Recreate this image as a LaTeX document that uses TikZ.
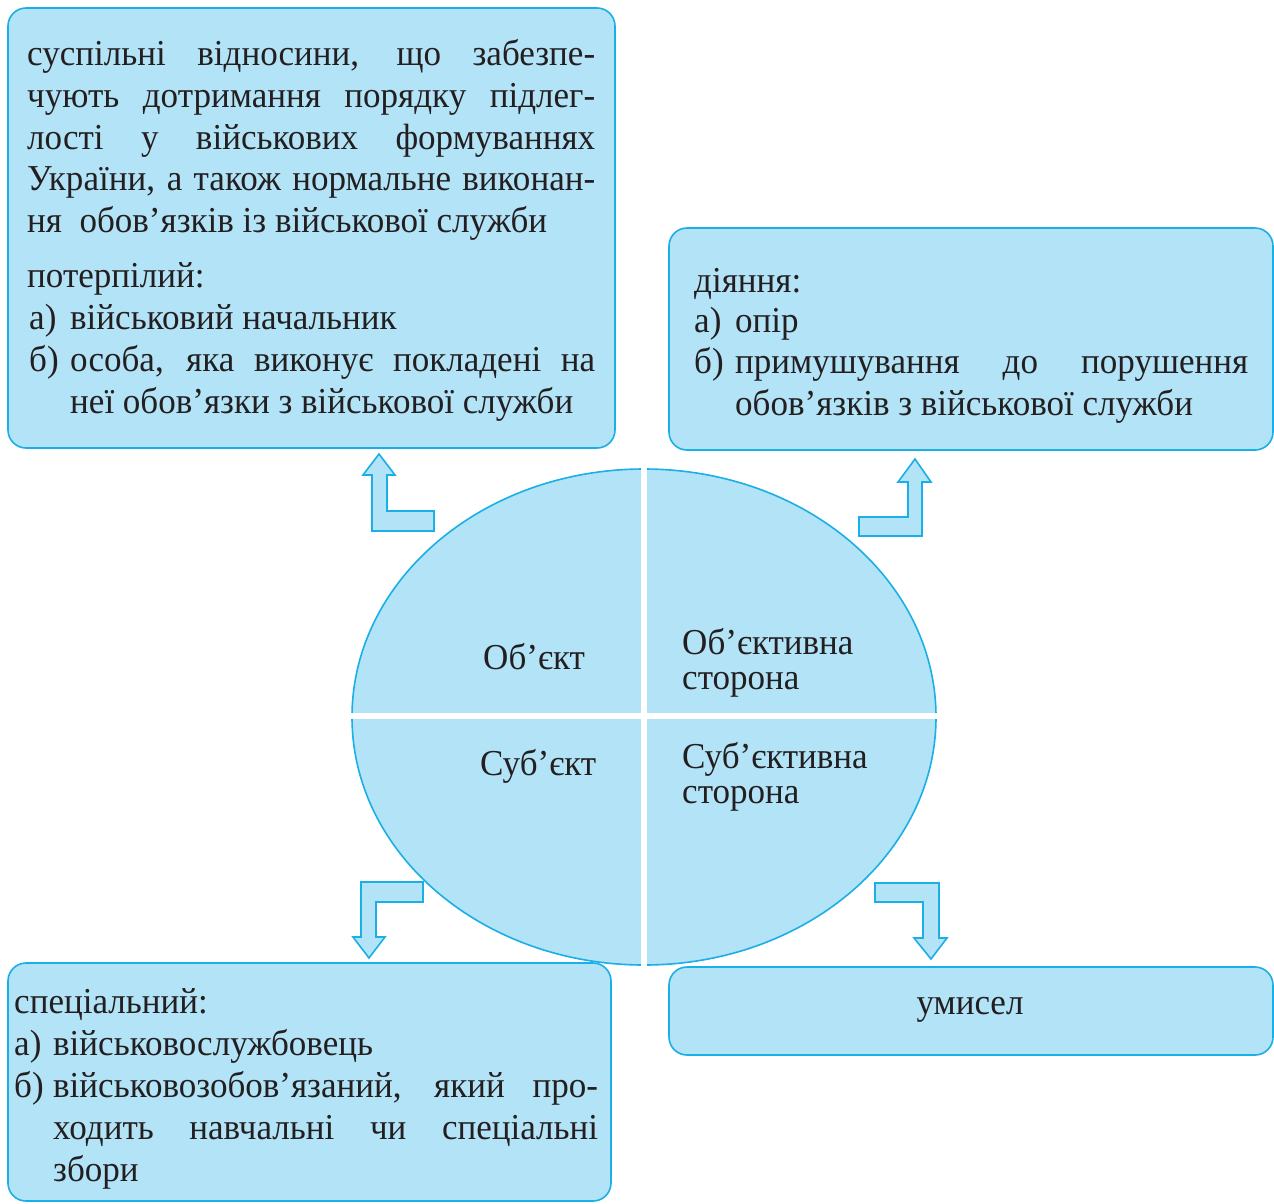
\documentclass[tikz,border=0pt]{standalone}
\usepackage{fontspec}
\setmainfont[FakeStretch=0.96]{Liberation Serif}
\usetikzlibrary{positioning}

\definecolor{boxfill}{HTML}{B3E3F7}
\definecolor{boxline}{HTML}{1AAFE6}
\definecolor{ink}{HTML}{231F20}

% one justified line of given width
\newcommand{\jline}[2]{\makebox[#1pt][s]{#2}}

\begin{document}
\begin{tikzpicture}[
  x=1pt, y=-1pt,
  line join=round,
  every node/.style={font=\fontsize{36.5}{40}\selectfont, text=ink, inner sep=0pt},
  infobox/.style={draw=boxline, fill=boxfill, line width=1.6pt, rounded corners=18pt},
  blockarrow/.style={draw=boxline, fill=boxfill, line width=1.6pt, line join=miter},
  txt/.style={anchor=base west}
]
  \useasboundingbox (0,0) rectangle (1274,1203);

  % Boxes
  \draw[infobox] (8,8) rectangle (615,448);
  \draw[infobox] (669,228) rectangle (1273,450);
  \draw[infobox] (8,963) rectangle (611,1201);
  \draw[infobox] (669,967) rectangle (1273,1055);

  % Block arrows
  \draw[blockarrow] (372,531) -- (434,531) -- (434,511) -- (387,511) -- (387,475)
    -- (395,475) -- (379,454) -- (363,475) -- (372,475) -- cycle;
  \draw[blockarrow] (859,536) -- (922,536) -- (922,482) -- (931,482) -- (915,459)
    -- (898,482) -- (908,482) -- (908,517) -- (859,517) -- cycle;
  \draw[blockarrow] (423,882) -- (361,882) -- (361,937) -- (353,937) -- (369,958)
    -- (385,937) -- (376,937) -- (376,902) -- (423,902) -- cycle;
  \draw[blockarrow] (875,883) -- (939,883) -- (939,938) -- (947,938) -- (931,959)
    -- (914,938) -- (923,938) -- (923,902) -- (875,902) -- cycle;

  % Ellipse split in four
  \draw[draw=boxline, fill=boxfill, line width=1.6pt] (644,717) ellipse [x radius=292, y radius=248];
  \draw[white, line width=6pt] (644,460) -- (644,975);
  \draw[white, line width=6pt] (340,716) -- (948,716);

  \node[txt] (obj) at (483,669) {Об’єкт};
  \node[txt] (objside1) at (682,654) {Об’єктивна};
  \node[txt] (objside2) at (682,689) {сторона};
  \node[txt] (subj) at (480,775) {Суб’єкт};
  \node[txt] (subjside1) at (682,768) {Суб’єктивна};
  \node[txt] (subjside2) at (682,803) {сторона};

  % Object
  \node[txt] (o1) at (27,65) {\jline{568}{суспільні відносини, що забезпе-}};
  \node[txt] (o2) at (27,107) {\jline{568}{чують дотримання порядку підлег-}};
  \node[txt] (o3) at (27,149) {\jline{568}{лості у військових формуваннях}};
  \node[txt] (o4) at (27,190) {\jline{568}{України, а також нормальне виконан-}};
  \node[txt] (o5) at (27,232) {ня\ \ обов’язків із військової служби};
  \node[txt] (o6) at (27,287) {потерпілий:};
  \node[txt] (o7a) at (29,329) {а)};
  \node[txt] (o7) at (70,329) {військовий начальник};
  \node[txt] (o8a) at (29,371) {б)};
  \node[txt] (o8) at (70,371) {\jline{525}{особа, яка виконує покладені на}};
  \node[txt] (o9) at (70,413) {неї обов’язки з військової служби};

  % Objective side
  \node[txt] (a1) at (694,292) {діяння:};
  \node[txt] (a2a) at (694,332) {а)};
  \node[txt] (a2) at (735,332) {опір};
  \node[txt] (a3a) at (694,373) {б)};
  \node[txt] (a3) at (735,373) {\jline{513}{примушування до порушення}};
  \node[txt] (a4) at (735,415) {обов’язків з військової служби};

  % Subject
  \node[txt] (s1) at (14,1013) {спеціальний:};
  \node[txt] (s2a) at (14,1055) {а)};
  \node[txt] (s2) at (53,1055) {військовослужбовець};
  \node[txt] (s3a) at (14,1097) {б)};
  \node[txt] (s3) at (53,1097) {\jline{545}{військовозобов’язаний, який про-}};
  \node[txt] (s4) at (53,1139) {\jline{545}{ходить навчальні чи спеціальні}};
  \node[txt] (s5) at (53,1181) {збори};

  % Subjective side
  \node[anchor=base] (intent) at (970,1014) {умисел};
\end{tikzpicture}
\end{document}
